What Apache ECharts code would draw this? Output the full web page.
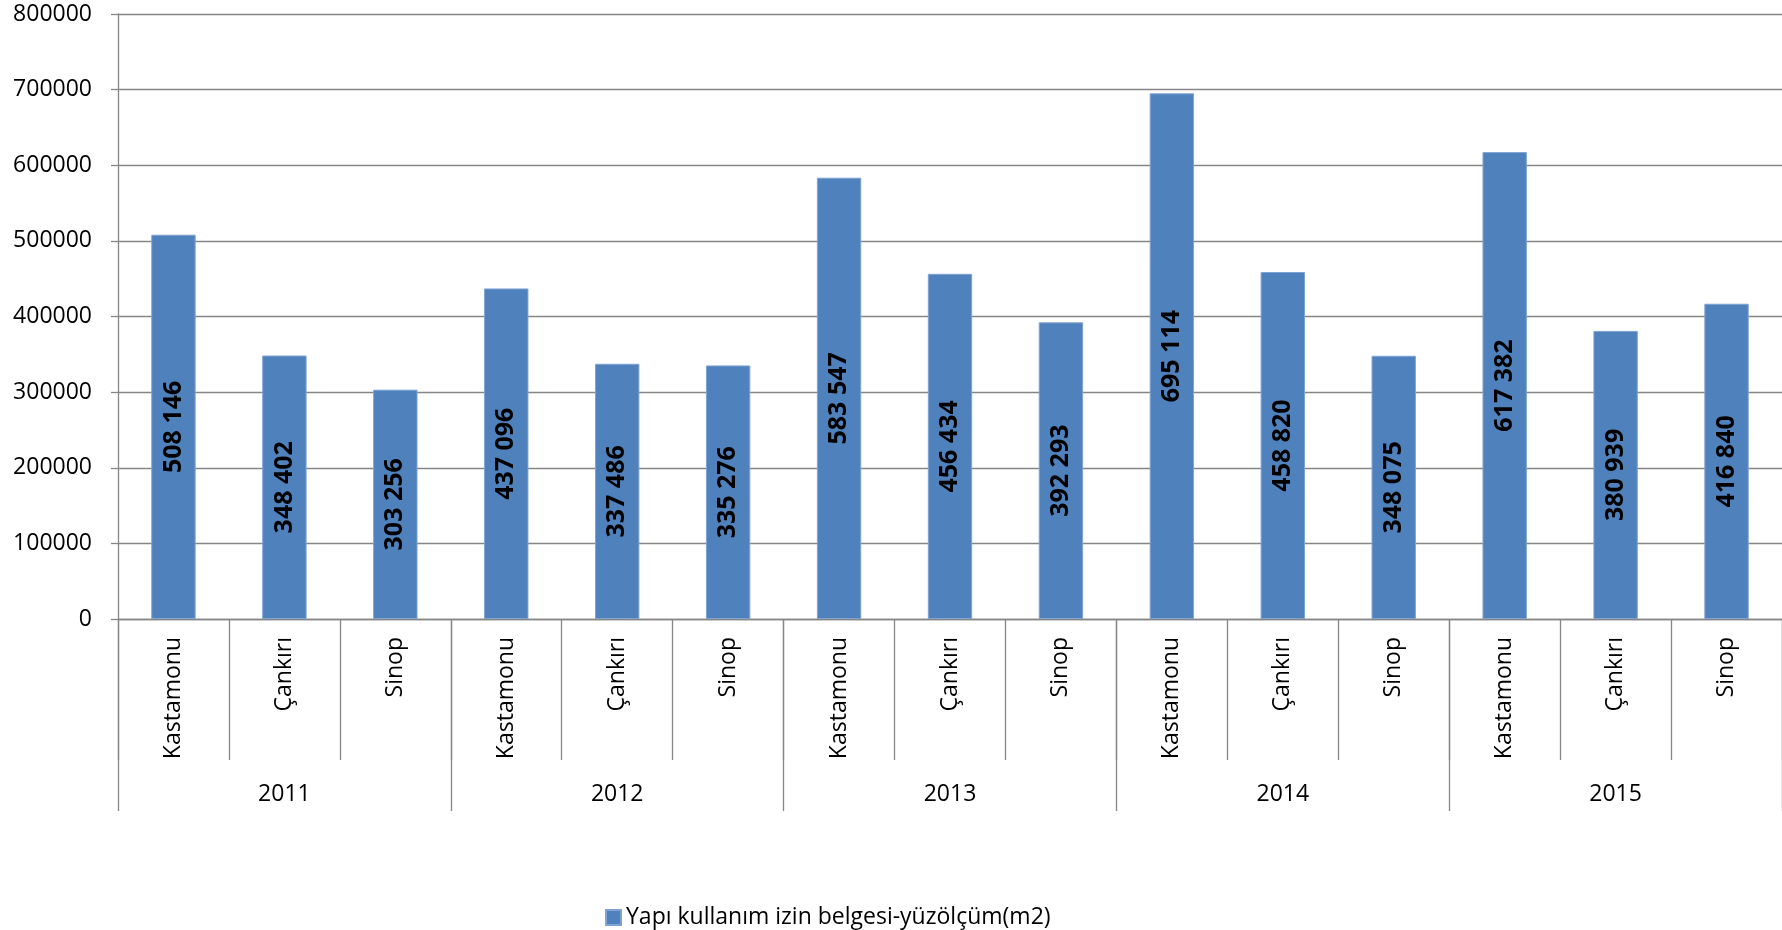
<!DOCTYPE html>
<html>
<head>
<meta charset="utf-8">
<script src="https://cdn.jsdelivr.net/npm/echarts@6/dist/echarts.min.js"></script>
<style>
html,body{margin:0;padding:0;background:#fff;}
#chart{width:1782px;height:930px;}
</style>
</head>
<body>
<div id="chart"></div>
<script>
const cities = ["Kastamonu","Çankırı","Sinop","Kastamonu","Çankırı","Sinop","Kastamonu","Çankırı","Sinop","Kastamonu","Çankırı","Sinop","Kastamonu","Çankırı","Sinop"];
const years = ["2011","2012","2013","2014","2015"];
const seriesName = "Yapı kullanım izin belgesi-yüzölçüm(m2)";
const values = [508146,348402,303256,437096,337486,335276,583547,456434,392293,695114,458820,348075,617382,380939,416840];
const yTicks = {min:0, max:800000, interval:100000};

const FONT = "Open Sans";
const GRAY = "#868686";
const fmt = v => String(v).replace(/\B(?=(\d{3})+(?!\d))/g, " ");

const chart = echarts.init(document.getElementById('chart'));
chart.setOption({
  animation:false,
  textStyle:{fontFamily:FONT},
  grid:{left:118,right:0,top:14,bottom:311,containLabel:false},
  legend:{
    data:[seriesName],
    left:600, top:901,
    icon:'rect', itemWidth:15, itemHeight:15, itemGap:10,
    textStyle:{fontFamily:FONT,fontSize:23,color:'#000'}
  },
  xAxis:[
    {
      type:'category', data:cities, position:'bottom', boundaryGap:true,
      axisLine:{show:true,lineStyle:{color:GRAY,width:1.3}},
      axisTick:{show:true,interval:0,length:141,lineStyle:{color:GRAY,width:1.3}},
      axisLabel:{interval:0,rotate:90,margin:18,fontFamily:FONT,fontSize:23,color:'#000'},
      splitLine:{show:false}
    },
    {
      type:'category', data:years, position:'bottom', boundaryGap:true,
      axisLine:{show:false},
      axisTick:{show:true,interval:0,length:192,lineStyle:{color:GRAY,width:1.3}},
      axisLabel:{interval:0,margin:164,fontFamily:FONT,fontSize:23,color:'#000'},
      splitLine:{show:false}
    }
  ],
  yAxis:{
    type:'value', min:yTicks.min, max:yTicks.max, interval:yTicks.interval,
    axisLine:{show:true,lineStyle:{color:GRAY,width:1.3}},
    axisTick:{show:true,length:7,lineStyle:{color:GRAY,width:1.3}},
    axisLabel:{margin:26,fontFamily:FONT,fontSize:23,color:'#000',formatter:v=>String(v)},
    splitLine:{show:true,lineStyle:{color:GRAY,width:1.3}}
  },
  series:[{
    name:seriesName, type:'bar', xAxisIndex:0, data:values,
    barWidth:'40%',
    itemStyle:{color:'#4F81BD',borderColor:'#7FA3D3',borderWidth:1},
    label:{show:true,position:'inside',rotate:90,formatter:p=>fmt(p.value),
      fontFamily:FONT,fontSize:25,fontWeight:'bold',color:'#000'}
  }]
});
</script>
</body>
</html>
